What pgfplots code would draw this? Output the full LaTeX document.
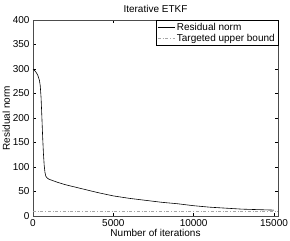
\documentclass[border=0pt]{standalone}
\usepackage{pgfplots}
\pgfplotsset{compat=1.18}
\usetikzlibrary{calc}
\usepackage{fontspec}
\setmainfont{Liberation Sans}
\begin{document}
\begin{tikzpicture}
\begin{axis}[
  scale only axis, width=245pt, height=196pt,
  xmin=0, xmax=15250, ymin=0, ymax=400,
  xtick={0,5000,10000,15000}, ytick={0,50,...,400},
  scaled x ticks=false,
  /pgf/number format/assume math mode=true,
  /pgf/number format/1000 sep={},
  tick align=inside, major tick length=3pt,
  tick style={black, line width=0.4pt},
  tick label style={font=\fontsize{10}{12}\selectfont},
  label style={font=\fontsize{10}{12}\selectfont},
  title style={font=\fontsize{10}{12}\selectfont, yshift=-2pt},
  title={Iterative ETKF},
  xlabel={Number of iterations}, ylabel={Residual norm},
  xlabel style={yshift=4pt}, ylabel style={yshift=-4pt},
  axis line style={black!70, line width=0.5pt},
  legend style={at={(1,1)}, anchor=north east, font=\fontsize{10}{12}\selectfont, draw=black, line width=0.5pt, inner sep=1pt, row sep=-2pt, cells={anchor=west}},
  legend cell align=left,
]
\addplot[black, line width=0.6pt] coordinates {
(0,300) (100,297) (200,293) (300,287) (400,277) (450,266) (500,243) (550,204) (600,162) (650,127) (700,102) (750,88) (800,81) (900,77) (1000,75) (1500,69) (2000,64) (2500,60) (3000,56) (4000,48) (5000,41) (6000,36) (7000,32) (8000,28) (9000,25) (10000,21) (11000,18) (12000,16) (13000,14) (14000,13) (15000,12)
};
\addlegendentry{Residual norm}
\addplot[black!35, dash dot, line width=0.6pt] coordinates {(0,10) (15250,10)};
\addlegendentry{Targeted upper bound}
\end{axis}
\pgfresetboundingbox
\path (current axis.south west) ++(-33pt,-25pt) rectangle ($(current axis.north east)+(12pt,20pt)$);
\end{tikzpicture}
\end{document}
